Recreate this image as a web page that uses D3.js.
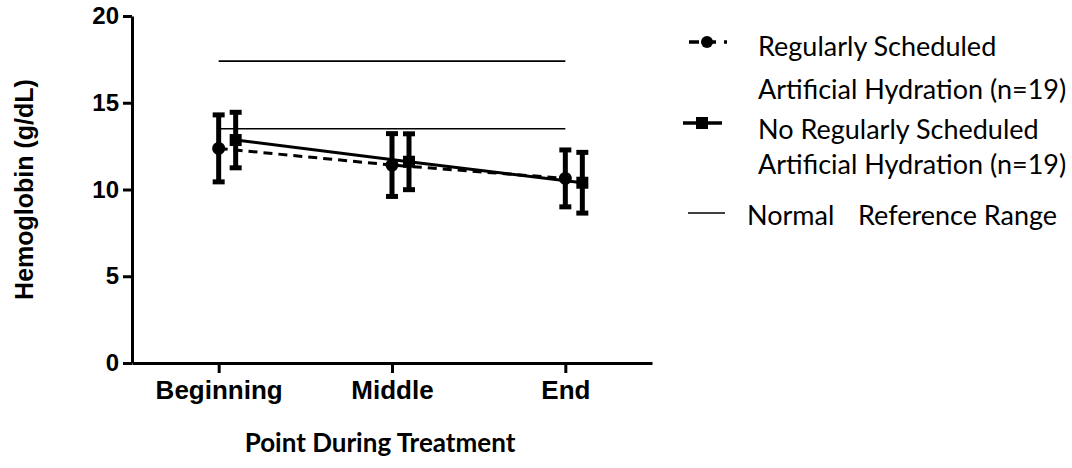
<!DOCTYPE html>
<html>
<head>
<meta charset="utf-8">
<script src="https://d3js.org/d3.v7.min.js"></script>
<style>
  body { margin: 0; background: #fff; }
  svg { display: block; }
  .axis path, .axis line { stroke: #000; stroke-width: 3; }
  .axis text { font-family: "Liberation Sans", Arial, sans-serif; font-weight: bold; fill: #000; }
  .legend text { font-family: Lato, "Noto Sans", sans-serif; font-size: 27px; fill: #000; }
</style>
</head>
<body>
<div id="chart"></div>
<script>
// chart data
const categories = ["Beginning", "Middle", "End"];
const scheduledMean = [12.37, 11.41, 10.64];
const scheduledSD = [1.93, 1.81, 1.64];
const noScheduledMean = [12.85, 11.6, 10.39];
const noScheduledSD = [1.6, 1.61, 1.75];
const referenceRange = [17.4, 13.5];
const yTicks = [0, 5, 10, 15, 20];

const width = 1072;
const height = 468;
const margin = { top: 16, right: 420, bottom: 105, left: 132 };

const svg = d3.select("#chart")
    .append("svg")
    .attr("width", width)
    .attr("height", height);

// scales
const x = d3.scalePoint()
    .domain(categories)
    .range([margin.left, width - margin.right])
    .padding(0.5);

const y = d3.scaleLinear()
    .domain([0, 20])
    .range([height - margin.bottom, margin.top]);

const dodge = 17; // second series drawn a little to the right

const scheduled = categories.map((c, i) => ({ cat: c, mean: scheduledMean[i], sd: scheduledSD[i], dx: 0 }));
const noScheduled = categories.map((c, i) => ({ cat: c, mean: noScheduledMean[i], sd: noScheduledSD[i], dx: dodge }));

// normal reference range lines
svg.selectAll(".ref")
    .data(referenceRange)
    .enter()
    .append("line")
    .attr("class", "ref")
    .attr("x1", x(categories[0]))
    .attr("x2", x(categories[categories.length - 1]))
    .attr("y1", d => y(d))
    .attr("y2", d => y(d))
    .attr("stroke", "#000")
    .attr("stroke-width", 1.6);

// axes
svg.append("g")
    .attr("class", "axis")
    .attr("transform", `translate(${margin.left},0)`)
    .call(d3.axisLeft(y).tickValues(yTicks).tickSize(9).tickSizeOuter(0).tickPadding(4))
    .selectAll("text")
    .style("font-size", "24px");

svg.append("g")
    .attr("class", "axis")
    .attr("transform", `translate(0,${y(0)})`)
    .call(d3.axisBottom(x).tickSize(10).tickSizeOuter(0).tickPadding(8))
    .selectAll("text")
    .style("font-size", "26px");

// series lines
const line = d3.line()
    .x(d => x(d.cat) + d.dx)
    .y(d => y(d.mean));

svg.append("path")
    .datum(scheduled)
    .attr("fill", "none")
    .attr("stroke", "#000")
    .attr("stroke-width", 3)
    .attr("stroke-dasharray", "9,6")
    .attr("d", line);

svg.append("path")
    .datum(noScheduled)
    .attr("fill", "none")
    .attr("stroke", "#000")
    .attr("stroke-width", 3)
    .attr("d", line);

// error bars
function drawErrorBars(data) {
    const g = svg.append("g");
    g.selectAll(".bar")
        .data(data)
        .enter()
        .append("line")
        .attr("x1", d => x(d.cat) + d.dx)
        .attr("x2", d => x(d.cat) + d.dx)
        .attr("y1", d => y(d.mean + d.sd))
        .attr("y2", d => y(d.mean - d.sd))
        .attr("stroke", "#000")
        .attr("stroke-width", 5);
    ["top", "bottom"].forEach(side => {
        g.selectAll(".cap-" + side)
            .data(data)
            .enter()
            .append("line")
            .attr("x1", d => x(d.cat) + d.dx - 6)
            .attr("x2", d => x(d.cat) + d.dx + 6)
            .attr("y1", d => y(side === "top" ? d.mean + d.sd : d.mean - d.sd))
            .attr("y2", d => y(side === "top" ? d.mean + d.sd : d.mean - d.sd))
            .attr("stroke", "#000")
            .attr("stroke-width", 5);
    });
}
drawErrorBars(scheduled);
drawErrorBars(noScheduled);

// markers
svg.selectAll(".dot")
    .data(scheduled)
    .enter()
    .append("circle")
    .attr("cx", d => x(d.cat) + d.dx)
    .attr("cy", d => y(d.mean))
    .attr("r", 6.5)
    .attr("fill", "#000");

svg.selectAll(".sq")
    .data(noScheduled)
    .enter()
    .append("rect")
    .attr("x", d => x(d.cat) + d.dx - 6)
    .attr("y", d => y(d.mean) - 6)
    .attr("width", 12)
    .attr("height", 12)
    .attr("fill", "#000");

// axis titles
svg.append("text")
    .attr("transform", `translate(33,${(y(0) + y(20)) / 2}) rotate(-90)`)
    .attr("text-anchor", "middle")
    .style("font-family", "'Liberation Sans', Arial, sans-serif")
    .style("font-weight", "bold")
    .style("font-size", "25px")
    .text("Hemoglobin (g/dL)");

svg.append("text")
    .attr("x", (margin.left + width - margin.right) / 2 - 12)
    .attr("y", 452)
    .attr("text-anchor", "middle")
    .style("font-family", "Lato, 'Noto Sans', sans-serif")
    .style("font-weight", "bold")
    .style("font-size", "26px")
    .text("Point During  Treatment");

// legend
const legend = svg.append("g").attr("class", "legend");

legend.append("line")
    .attr("x1", 689).attr("x2", 727).attr("y1", 42).attr("y2", 42)
    .attr("stroke", "#000").attr("stroke-width", 3.5)
    .attr("stroke-dasharray", "10,3,14,8,3,20");
legend.append("circle").attr("cx", 707).attr("cy", 42).attr("r", 6).attr("fill", "#000");

legend.append("line")
    .attr("x1", 683).attr("x2", 722).attr("y1", 123).attr("y2", 123)
    .attr("stroke", "#000").attr("stroke-width", 3.5);
legend.append("rect").attr("x", 696).attr("y", 117).attr("width", 12).attr("height", 12).attr("fill", "#000");

legend.append("line")
    .attr("x1", 688).attr("x2", 725).attr("y1", 213).attr("y2", 213)
    .attr("stroke", "#000").attr("stroke-width", 1.5);

const legendLines = [
    { text: "Regularly Scheduled", x: 758, y: 56 },
    { text: "Artificial Hydration (n=19)", x: 758, y: 99 },
    { text: "No Regularly Scheduled", x: 758, y: 139 },
    { text: "Artificial Hydration (n=19)", x: 758, y: 174 },
    { text: "Normal", x: 747, y: 225 },
    { text: "Reference Range", x: 858, y: 225 }
];
legend.selectAll(".lt")
    .data(legendLines)
    .enter()
    .append("text")
    .attr("x", d => d.x)
    .attr("y", d => d.y)
    .text(d => d.text);
</script>
</body>
</html>
